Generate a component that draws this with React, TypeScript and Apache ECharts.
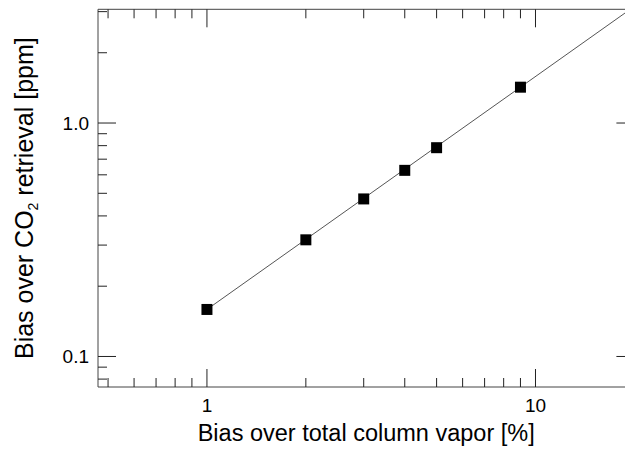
import React, { useEffect, useRef } from "react";
import * as echarts from "echarts";

// Measured data (log-log)
const vaporBias = [1, 2, 3, 4, 5, 9];
const co2Bias = [0.159, 0.316, 0.473, 0.627, 0.784, 1.424];

// Fitted power-law line endpoints
const fitX = [1, 20];
const fitY = [0.159, 3.16];

// Axis ranges
const xRange = [0.466, 20];
const yRange = [0.074, 3.07];

// Tick values
const xMajorTicks = [1, 10];
const xMinorTicks = [0.5, 0.6, 0.7, 0.8, 0.9, 2, 3, 4, 5, 6, 7, 8, 9];
const yMajorTicks = [0.1, 1];
const yMinorTicks = [0.08, 0.09, 0.2, 0.3, 0.4, 0.5, 0.6, 0.7, 0.8, 0.9, 2, 3];

const FONT = "'Liberation Sans', Arial, Helvetica, sans-serif";
const MAJOR_LEN = 18;
const MINOR_LEN = 9;

export default function App() {
  const ref = useRef<HTMLDivElement>(null);

  useEffect(() => {
    if (!ref.current) return;
    const chart = echarts.init(ref.current, undefined, { renderer: "svg" });

    const xTickData = [
      ...xMajorTicks.map((v) => [v, 1, 1]),
      ...xMinorTicks.map((v) => [v, 1, 0]),
    ];
    const yTickData = [
      ...yMajorTicks.map((v) => [1, v, 1]),
      ...yMinorTicks.map((v) => [1, v, 0]),
    ];

    const tickStyle = { stroke: "#222", lineWidth: 1 };

    const option: any = {
      animation: false,
      backgroundColor: "#fff",
      grid: {
        left: 96.7,
        top: 9.3,
        right: 5.6,
        bottom: 57.3,
        show: true,
        borderColor: "#444",
        borderWidth: 1,
        backgroundColor: "transparent",
      },
      xAxis: {
        type: "log",
        logBase: 10,
        min: xRange[0],
        max: xRange[1],
        axisLine: { show: false },
        axisTick: { show: false },
        splitLine: { show: false },
        minorTick: { show: false },
        axisLabel: {
          color: "#000",
          fontSize: 19,
          fontFamily: FONT,
          margin: 9,
          showMinLabel: false,
          showMaxLabel: false,
          formatter: (v: number) => String(Math.round(v)),
        },
        name: "Bias over total column vapor [%]",
        nameLocation: "middle",
        nameGap: 34,
        nameTextStyle: { color: "#000", fontSize: 23.5, fontFamily: FONT },
      },
      yAxis: {
        type: "log",
        logBase: 10,
        min: yRange[0],
        max: yRange[1],
        axisLine: { show: false },
        axisTick: { show: false },
        splitLine: { show: false },
        minorTick: { show: false },
        axisLabel: {
          color: "#000",
          fontSize: 19,
          fontFamily: FONT,
          margin: 9,
          showMinLabel: false,
          showMaxLabel: false,
          formatter: (v: number) => v.toFixed(1),
        },
        name: "Bias over CO{sub|2} retrieval [ppm]",
        nameLocation: "middle",
        nameGap: 58,
        nameTextStyle: {
          color: "#000",
          fontSize: 25,
          fontFamily: FONT,
          lineHeight: 32,
          rich: {
            sub: {
              fontSize: 14,
              fontFamily: FONT,
              color: "#000",
              verticalAlign: "bottom",
            },
          },
        },
      },
      series: [
        {
          type: "line",
          data: fitX.map((x, i) => [x, fitY[i]]),
          showSymbol: false,
          symbol: "none",
          lineStyle: { color: "#555", width: 1 },
          clip: true,
          z: 2,
        },
        {
          type: "scatter",
          data: vaporBias.map((x, i) => [x, co2Bias[i]]),
          symbol: "rect",
          symbolSize: 11,
          itemStyle: { color: "#000", opacity: 1 },
          z: 3,
        },
        {
          type: "custom",
          data: xTickData,
          encode: { x: 0, y: 1 },
          silent: true,
          clip: false,
          z: 1,
          renderItem: (params: any, api: any) => {
            const cs = params.coordSys;
            const px = api.coord([api.value(0), 1])[0];
            const len = api.value(2) ? MAJOR_LEN : MINOR_LEN;
            const bottom = cs.y + cs.height;
            return {
              type: "group",
              children: [
                {
                  type: "line",
                  shape: { x1: px, y1: bottom, x2: px, y2: bottom - len },
                  style: tickStyle,
                },
                {
                  type: "line",
                  shape: { x1: px, y1: cs.y, x2: px, y2: cs.y + len },
                  style: tickStyle,
                },
              ],
            };
          },
        },
        {
          type: "custom",
          data: yTickData,
          encode: { x: 0, y: 1 },
          silent: true,
          clip: false,
          z: 1,
          renderItem: (params: any, api: any) => {
            const cs = params.coordSys;
            const py = api.coord([1, api.value(1)])[1];
            const len = api.value(2) ? MAJOR_LEN : MINOR_LEN;
            const right = cs.x + cs.width;
            return {
              type: "group",
              children: [
                {
                  type: "line",
                  shape: { x1: cs.x, y1: py, x2: cs.x + len, y2: py },
                  style: tickStyle,
                },
                {
                  type: "line",
                  shape: { x1: right, y1: py, x2: right - len, y2: py },
                  style: tickStyle,
                },
              ],
            };
          },
        },
      ],
    };

    chart.setOption(option);
    return () => chart.dispose();
  }, []);

  return (
    <div
      style={{
        position: "fixed",
        left: 0,
        top: 0,
        width: 625,
        height: 450,
        overflow: "hidden",
        background: "#fff",
      }}
    >
      <div ref={ref} style={{ width: 640, height: 450 }} />
    </div>
  );
}
